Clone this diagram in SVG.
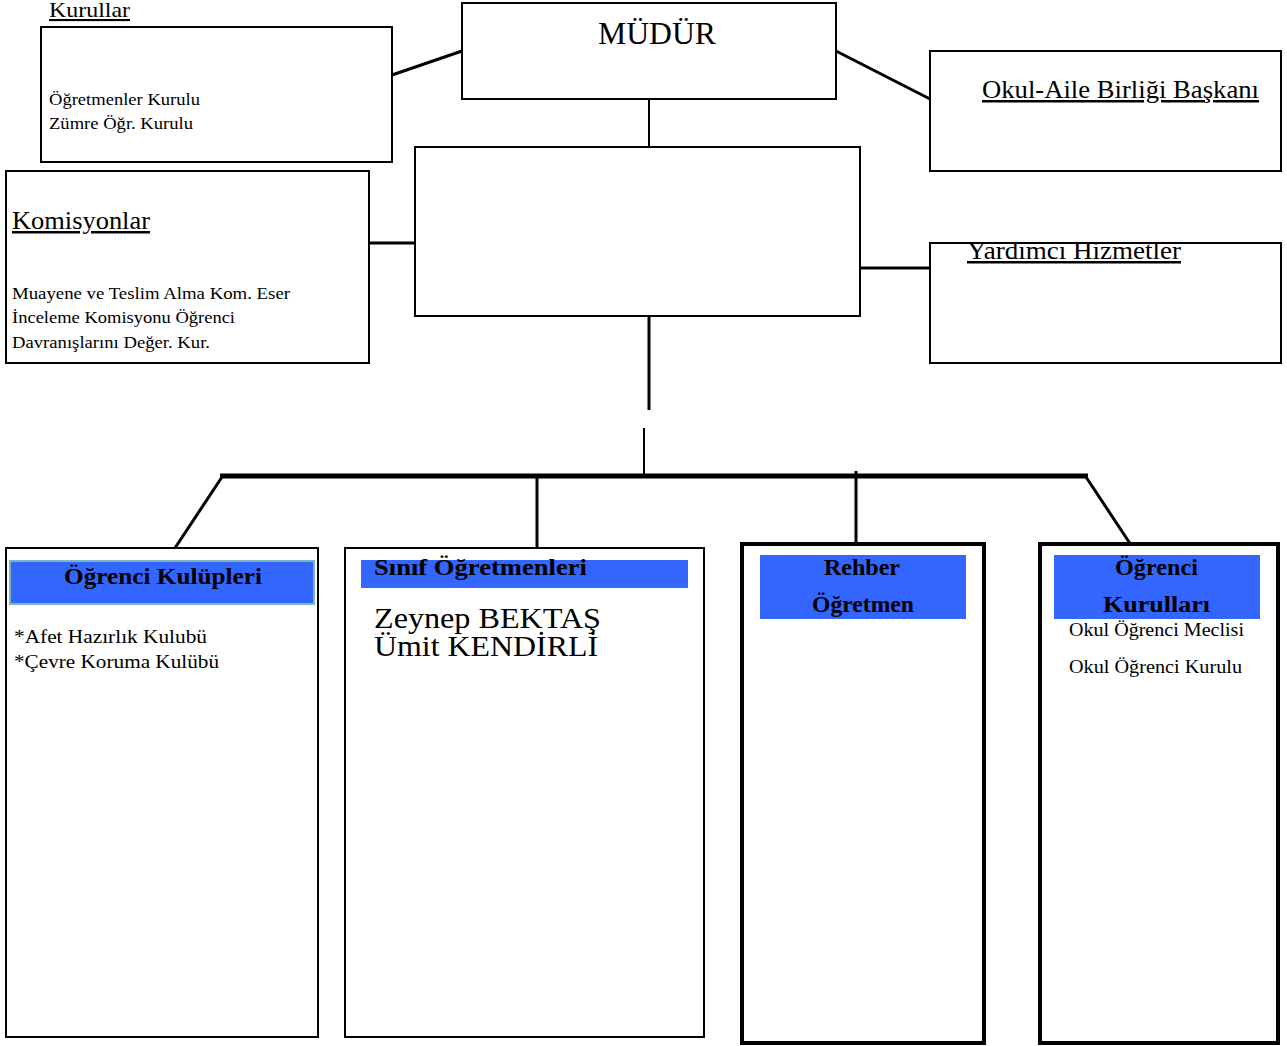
<svg xmlns="http://www.w3.org/2000/svg" width="1287" height="1046" viewBox="0 0 1287 1046">
<style>
text{font-family:"Liberation Serif","Times New Roman",serif;fill:#000}
.box{fill:#fff;stroke:#000;stroke-width:2}
.boxb{fill:#fff;stroke:#000;stroke-width:4}
.bar{fill:#3366ff}
.u{text-decoration:underline}
.b{font-weight:bold}
.c{stroke:#000;fill:none}
</style>
<rect width="1287" height="1046" fill="#fff"/>
<g id="connectors">
<line class="c" x1="392" y1="75" x2="462" y2="51" stroke-width="3"/>
<line class="c" x1="836" y1="51" x2="930" y2="99" stroke-width="3"/>
<line class="c" x1="649" y1="99" x2="649" y2="147" stroke-width="2"/>
<line class="c" x1="369" y1="243" x2="415" y2="243" stroke-width="3"/>
<line class="c" x1="860" y1="268" x2="930" y2="268" stroke-width="3"/>
<line class="c" x1="649" y1="316" x2="649" y2="410" stroke-width="3"/>
<line class="c" x1="644" y1="428" x2="644" y2="476" stroke-width="2"/>
<line class="c" x1="220" y1="476" x2="1088" y2="476" stroke-width="5"/>
<line class="c" x1="222" y1="477" x2="175" y2="548" stroke-width="3"/>
<line class="c" x1="537" y1="476" x2="537" y2="548" stroke-width="3"/>
<line class="c" x1="856" y1="471" x2="856" y2="543" stroke-width="3"/>
<line class="c" x1="1086" y1="477" x2="1133" y2="548" stroke-width="3"/>
</g>
<g id="kurullar">
<text x="49" y="17" font-size="21" class="u" textLength="81" lengthAdjust="spacingAndGlyphs">Kurullar</text>
<rect class="box" x="41" y="27" width="351" height="135"/>
<text x="49" y="105" font-size="17" textLength="151" lengthAdjust="spacingAndGlyphs">Öğretmenler Kurulu</text>
<text x="49" y="129" font-size="17" textLength="144" lengthAdjust="spacingAndGlyphs">Zümre Öğr. Kurulu</text>
</g>
<g id="mudur">
<rect class="box" x="462" y="3" width="374" height="96"/>
<text x="598" y="44" font-size="31" textLength="118" lengthAdjust="spacingAndGlyphs">MÜDÜR</text>
</g>
<g id="okul-aile">
<rect class="box" x="930" y="51" width="351" height="120"/>
<text x="982" y="98" font-size="25" class="u" textLength="277" lengthAdjust="spacingAndGlyphs">Okul-Aile Birliği Başkanı</text>
</g>
<g id="merkez">
<rect class="box" x="415" y="147" width="445" height="169"/>
</g>
<g id="komisyonlar">
<rect class="box" x="6" y="171" width="363" height="192"/>
<text x="12" y="229" font-size="25" class="u" textLength="138" lengthAdjust="spacingAndGlyphs">Komisyonlar</text>
<text x="12" y="299" font-size="17" textLength="278" lengthAdjust="spacingAndGlyphs">Muayene ve Teslim Alma Kom. Eser</text>
<text x="12" y="323" font-size="17" textLength="223" lengthAdjust="spacingAndGlyphs">İnceleme Komisyonu Öğrenci</text>
<text x="12" y="348" font-size="17" textLength="198" lengthAdjust="spacingAndGlyphs">Davranışlarını Değer. Kur.</text>
</g>
<g id="yardimci">
<rect class="box" x="930" y="243" width="351" height="120"/>
<text x="967" y="259" font-size="25" class="u" textLength="214" lengthAdjust="spacingAndGlyphs">Yardımcı Hizmetler</text>
</g>
<g id="ogrenci-kulupleri">
<rect class="box" x="6" y="548" width="312" height="489"/>
<rect class="bar" x="10" y="561" width="304" height="43" stroke="#7fb3bf" stroke-width="2"/>
<text x="64" y="584" font-size="23" class="b" textLength="198" lengthAdjust="spacingAndGlyphs">Öğrenci Kulüpleri</text>
<text x="14" y="643" font-size="19" textLength="193" lengthAdjust="spacingAndGlyphs">*Afet Hazırlık Kulubü</text>
<text x="14" y="668" font-size="19" textLength="205" lengthAdjust="spacingAndGlyphs">*Çevre Koruma Kulübü</text>
</g>
<g id="sinif-ogretmenleri">
<rect class="box" x="345" y="548" width="359" height="489"/>
<rect class="bar" x="361" y="560" width="327" height="28"/>
<text x="374" y="575" font-size="23" class="b" textLength="213" lengthAdjust="spacingAndGlyphs">Sınıf Öğretmenleri</text>
<text x="374" y="628" font-size="29" textLength="227" lengthAdjust="spacingAndGlyphs">Zeynep BEKTAŞ</text>
<text x="374" y="656" font-size="29" textLength="224" lengthAdjust="spacingAndGlyphs">Ümit KENDİRLİ</text>
</g>
<g id="rehber">
<rect class="boxb" x="742" y="544" width="242" height="499"/>
<rect class="bar" x="760" y="555" width="206" height="64"/>
<text x="824" y="575" font-size="23" class="b" textLength="76" lengthAdjust="spacingAndGlyphs">Rehber</text>
<text x="812" y="612" font-size="23" class="b" textLength="102" lengthAdjust="spacingAndGlyphs">Öğretmen</text>
</g>
<g id="ogrenci-kurullari">
<rect class="boxb" x="1040" y="544" width="238" height="499"/>
<rect class="bar" x="1054" y="555" width="206" height="64"/>
<text x="1115" y="575" font-size="23" class="b" textLength="83" lengthAdjust="spacingAndGlyphs">Öğrenci</text>
<text x="1103" y="612" font-size="23" class="b" textLength="107" lengthAdjust="spacingAndGlyphs">Kurulları</text>
<text x="1069" y="636" font-size="19" textLength="175" lengthAdjust="spacingAndGlyphs">Okul Öğrenci Meclisi</text>
<text x="1069" y="673" font-size="19" textLength="173" lengthAdjust="spacingAndGlyphs">Okul Öğrenci Kurulu</text>
</g>
</svg>
